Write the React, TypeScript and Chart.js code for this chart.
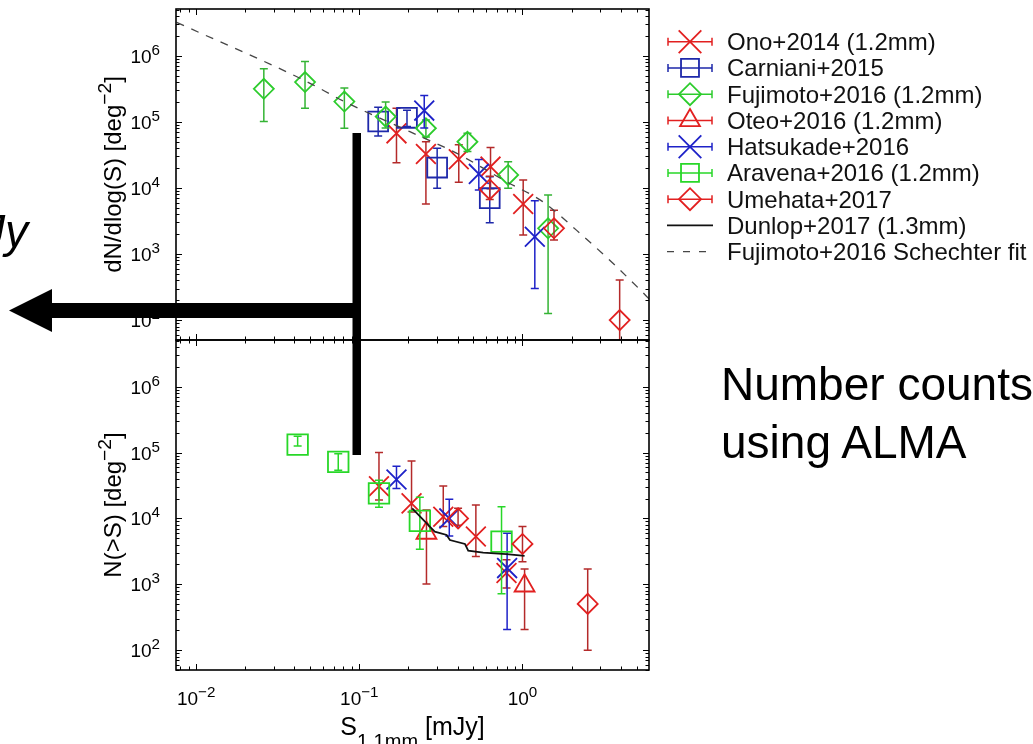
import React, { useEffect, useRef } from 'react';
import { Chart, registerables } from 'chart.js';
import { drawPoint } from 'chart.js/helpers';

Chart.register(...registerables);

const FONT_FAMILY = '"Liberation Sans", Arial, Helvetica, sans-serif';

// Axis ranges (shared by both panels)
const X_MIN = 0.00753;
const X_MAX = 5.96;
const Y_MIN = 50;
const Y_MAX = 5.1e6;
const X_LABEL_EXPONENTS = [-2, -1, 0];
const Y_LABEL_EXPONENTS = [2, 3, 4, 5, 6];

// ---- Differential counts dN/dlog(S) [deg^-2] ----
const onoDiffS = [0.169, 0.256, 0.407, 0.637, 1.01];
const onoDiffN = [6.7e4, 3.27e4, 2.72e4, 2.1e4, 5.7e3];
const onoDiffLo = [2.4e4, 5.7e3, 1.22e4, 9.7e3, 1.94e3];
const onoDiffHi = [1.6e5, 5.0e4, 4.5e4, 4.1e4, 1.32e4];

const carnDiffS = [0.1305, 0.196, 0.3, 0.63];
const carnDiffN = [1.01e5, 1.15e5, 2.03e4, 7.0e3];
const carnDiffLo = [6.1e4, 8.5e4, 9.9e3, 2.98e3];
const carnDiffHi = [1.67e5, 1.5e5, 4.0e4, 1.48e4];

const fujiDiffS = [0.026, 0.0465, 0.081, 0.145, 0.256, 0.46, 0.817, 1.435];
const fujiDiffN = [3.16e5, 4.0e5, 2.03e5, 1.2e5, 8.0e4, 5.0e4, 1.57e4, 2.45e3];
const fujiDiffLo = [1.01e5, 1.6e5, 8.0e4, 8.1e4, 5.9e4, 3.55e4, 9.9e3, 126];
const fujiDiffHi = [6.35e5, 8.2e5, 3.24e5, 2.0e5, 1.07e5, 6.7e4, 2.5e4, 7.8e3];

const hatsDiffS = [0.25, 0.54, 1.19];
const hatsDiffN = [1.48e5, 1.63e4, 1.83e3];
const hatsDiffLo = [8.1e4, 9.3e3, 302];
const hatsDiffHi = [2.5e5, 2.7e4, 6.4e3];

const umeDiffS = [0.63, 1.56, 3.94];
const umeDiffN = [9.5e3, 2.45e3, 100];
const umeDiffLo = [6.7e3, 1.63e3, 20];
const umeDiffHi = [1.5e4, 4.6e3, 404];

// Schechter fit curve
const schechterS = [0.0076, 0.0464, 0.081, 0.204, 0.394, 0.798, 1.33, 2.14, 3.57, 5.24, 5.96];
const schechterN = [3.2e6, 4.2e5, 2.03e5, 7.1e4, 3.36e4, 1.24e4, 6.2e3, 2.3e3, 7.3e2, 2.9e2, 2.1e2];

// ---- Cumulative counts N(>S) [deg^-2] ----
const aravCumS = [0.0419, 0.0743, 0.132, 0.235, 0.744];
const aravCumN = [1.32e5, 7.2e4, 2.4e4, 9.2e3, 4.45e3];
const aravCumLo = [1.25e5, 5.4e4, 1.47e4, 3.4e3, 720];
const aravCumHi = [1.76e5, 9.6e4, 3.8e4, 2.1e4, 1.5e4];

const onoCumS = [0.132, 0.209, 0.327, 0.518, 0.798];
const onoCumN = [3.08e4, 1.69e4, 1.06e4, 5.3e3, 1.48e3];
const onoCumLo = [1.9e4, 1.25e4, 7.5e3, 2.64e3, 880];
const onoCumHi = [1.0e5, 7.4e4, 3.1e4, 1.59e4, 2.36e3];

const hatsCumS = [0.169, 0.356, 0.805];
const hatsCumN = [3.9e4, 1.0e4, 1.76e3];
const hatsCumLo = [2.85e4, 5.4e3, 206];
const hatsCumHi = [6.2e4, 1.96e4, 5.96e3];

const oteoCumS = [0.258, 1.03];
const oteoCumN = [6.0e3, 950];
const oteoCumLo = [1.01e3, 206];
const oteoCumHi = [1.34e4, 1.7e3];

const umeCumS = [0.403, 1.0, 2.51];
const umeCumN = [1.0e4, 4.1e3, 504];
const umeCumLo = [7.9e3, 2.2e3, 100];
const umeCumHi = [1.42e4, 7.5e3, 1.7e3];

const dunlopS = [0.211, 0.2705, 0.29, 0.343, 0.359, 0.444, 0.465, 0.574, 0.798, 1.03];
const dunlopN = [1.42e4, 7.5e3, 6.3e3, 5.6e3, 4.7e3, 4.1e3, 3.25e3, 3.03e3, 2.87e3, 2.7e3];

// Colours
const RED = 'rgb(226,32,32)';
const RED_BAR = 'rgb(180,42,42)';
const BLUE = 'rgb(30,34,200)';
const BLUE_DARK = 'rgb(30,40,170)';
const GREEN = 'rgb(44,204,44)';
const GREEN_BAR = 'rgb(52,180,52)';
const GREEN_LIGHT = 'rgb(40,215,40)';

type PointSeries = {
  label: string;
  style: string;
  radius: number;
  color: string;
  barColor: string;
  s: number[];
  n: number[];
  lo: number[];
  hi: number[];
};

type CurveSeries = {
  label: string;
  color: string;
  width: number;
  dash: number[];
  smooth: boolean;
  s: number[];
  n: number[];
};

const diffSeries: PointSeries[] = [
  { label: 'Ono+2014 (1.2mm)', style: 'crossRot', radius: 14, color: RED, barColor: RED_BAR, s: onoDiffS, n: onoDiffN, lo: onoDiffLo, hi: onoDiffHi },
  { label: 'Carniani+2015', style: 'rect', radius: 14, color: BLUE_DARK, barColor: BLUE_DARK, s: carnDiffS, n: carnDiffN, lo: carnDiffLo, hi: carnDiffHi },
  { label: 'Fujimoto+2016 (1.2mm)', style: 'rectRot', radius: 10, color: GREEN, barColor: GREEN_BAR, s: fujiDiffS, n: fujiDiffN, lo: fujiDiffLo, hi: fujiDiffHi },
  { label: 'Hatsukade+2016', style: 'crossRot', radius: 14, color: BLUE, barColor: BLUE, s: hatsDiffS, n: hatsDiffN, lo: hatsDiffLo, hi: hatsDiffHi },
  { label: 'Umehata+2017', style: 'rectRot', radius: 10, color: RED, barColor: RED_BAR, s: umeDiffS, n: umeDiffN, lo: umeDiffLo, hi: umeDiffHi },
];

const diffCurves: CurveSeries[] = [
  { label: 'Fujimoto+2016 Schechter fit', color: 'rgb(70,70,70)', width: 1.3, dash: [8, 8], smooth: true, s: schechterS, n: schechterN },
];

const cumSeries: PointSeries[] = [
  { label: 'Ono+2014 (1.2mm)', style: 'crossRot', radius: 14, color: RED, barColor: RED_BAR, s: onoCumS, n: onoCumN, lo: onoCumLo, hi: onoCumHi },
  { label: 'Oteo+2016 (1.2mm)', style: 'triangle', radius: 11.5, color: RED, barColor: RED_BAR, s: oteoCumS, n: oteoCumN, lo: oteoCumLo, hi: oteoCumHi },
  { label: 'Hatsukade+2016', style: 'crossRot', radius: 14, color: BLUE, barColor: BLUE, s: hatsCumS, n: hatsCumN, lo: hatsCumLo, hi: hatsCumHi },
  { label: 'Aravena+2016 (1.2mm)', style: 'rect', radius: 14.5, color: GREEN_LIGHT, barColor: GREEN_LIGHT, s: aravCumS, n: aravCumN, lo: aravCumLo, hi: aravCumHi },
  { label: 'Umehata+2017', style: 'rectRot', radius: 10, color: RED, barColor: RED_BAR, s: umeCumS, n: umeCumN, lo: umeCumLo, hi: umeCumHi },
];

const cumCurves: CurveSeries[] = [
  { label: 'Dunlop+2017 (1.3mm)', color: '#111', width: 1.8, dash: [], smooth: false, s: dunlopS, n: dunlopN },
];

type LegendEntry = { label: string; kind: 'point' | 'solid' | 'dashed'; style?: string; radius?: number; color: string };

const legendEntries: LegendEntry[] = [
  { label: 'Ono+2014 (1.2mm)', kind: 'point', style: 'crossRot', radius: 16, color: RED },
  { label: 'Carniani+2015', kind: 'point', style: 'rect', radius: 12.7, color: BLUE_DARK },
  { label: 'Fujimoto+2016 (1.2mm)', kind: 'point', style: 'rectRot', radius: 11, color: GREEN },
  { label: 'Oteo+2016 (1.2mm)', kind: 'point', style: 'triangle', radius: 11.5, color: RED },
  { label: 'Hatsukade+2016', kind: 'point', style: 'crossRot', radius: 16, color: BLUE },
  { label: 'Aravena+2016 (1.2mm)', kind: 'point', style: 'rect', radius: 12.7, color: GREEN_LIGHT },
  { label: 'Umehata+2017', kind: 'point', style: 'rectRot', radius: 11, color: RED },
  { label: 'Dunlop+2017 (1.3mm)', kind: 'solid', color: '#111' },
  { label: 'Fujimoto+2016 Schechter fit', kind: 'dashed', color: 'rgb(70,70,70)' },
];

const PAGE_W = 1033;
const PLOT_LEFT = 176;
const PLOT_RIGHT = 649;

type Seg = { t: string; k?: 'sup' | 'sub' };

const SCRIPT_SCALE = 0.8;

function richWidth(ctx: CanvasRenderingContext2D, segs: Seg[], size: number) {
  let w = 0;
  for (const s of segs) {
    ctx.font = `${s.k ? size * SCRIPT_SCALE : size}px ${FONT_FAMILY}`;
    w += ctx.measureText(s.t).width;
  }
  return w;
}

function drawRich(
  ctx: CanvasRenderingContext2D,
  segs: Seg[],
  x: number,
  y: number,
  size: number,
  align: 'left' | 'center' | 'right',
  subDrop = 0.3
) {
  const w = richWidth(ctx, segs, size);
  let cx = align === 'left' ? x : align === 'center' ? x - w / 2 : x - w;
  ctx.textAlign = 'left';
  ctx.textBaseline = 'alphabetic';
  for (const s of segs) {
    const sz = s.k ? size * SCRIPT_SCALE : size;
    ctx.font = `${sz}px ${FONT_FAMILY}`;
    const dy = s.k === 'sup' ? -size * 0.42 : s.k === 'sub' ? size * subDrop : 0;
    ctx.fillText(s.t, cx, y + dy);
    cx += ctx.measureText(s.t).width;
  }
}

function powerLabel(e: number): Seg[] {
  return [{ t: '10' }, { t: e < 0 ? `\u2212${-e}` : `${e}`, k: 'sup' }];
}

const TICK_FONT = 19;
const TITLE_FONT = 24;
const MAJOR_TICK = 6;
const MINOR_TICK = 3.5;

type FrameOpts = { yTitle: Seg[]; xLabels: boolean; legend: boolean };

function framePlugin(opts: FrameOpts) {
  return {
    id: 'gnuFrame',
    afterDraw(chart: any) {
      const { ctx, chartArea: a, scales } = chart;
      const xs = scales.x;
      const ys = scales.y;
      ctx.save();
      ctx.strokeStyle = '#000';
      ctx.fillStyle = '#000';
      ctx.lineWidth = 1;
      ctx.beginPath();
      // x ticks, on both horizontal edges, pointing inward
      for (let k = -3; k <= 0; k++) {
        for (let m = 1; m <= 9; m++) {
          const v = m * Math.pow(10, k);
          if (v < X_MIN || v > X_MAX) continue;
          const px = Math.round(xs.getPixelForValue(v)) + 0.5;
          const len = m === 1 ? MAJOR_TICK : MINOR_TICK;
          ctx.moveTo(px, a.bottom);
          ctx.lineTo(px, a.bottom - len);
          ctx.moveTo(px, a.top);
          ctx.lineTo(px, a.top + len);
        }
      }
      // y ticks, on both vertical edges
      for (let k = 1; k <= 6; k++) {
        for (let m = 1; m <= 9; m++) {
          const v = m * Math.pow(10, k);
          if (v < Y_MIN || v > Y_MAX) continue;
          const py = Math.round(ys.getPixelForValue(v)) + 0.5;
          const len = m === 1 ? MAJOR_TICK : MINOR_TICK;
          ctx.moveTo(a.left, py);
          ctx.lineTo(a.left + len, py);
          ctx.moveTo(a.right, py);
          ctx.lineTo(a.right - len, py);
        }
      }
      ctx.stroke();
      ctx.lineWidth = 1.6;
      ctx.strokeRect(a.left, a.top, a.right - a.left, a.bottom - a.top);

      // y tick labels
      for (const e of Y_LABEL_EXPONENTS) {
        const py = ys.getPixelForValue(Math.pow(10, e));
        drawRich(ctx, powerLabel(e), a.left - 16, py + 7, TICK_FONT, 'right');
      }

      // y title (rotated)
      ctx.save();
      ctx.translate(121, (a.top + a.bottom) / 2);
      ctx.rotate(-Math.PI / 2);
      drawRich(ctx, opts.yTitle, 0, 0, TITLE_FONT, 'center');
      ctx.restore();

      if (opts.xLabels) {
        for (const e of X_LABEL_EXPONENTS) {
          const px = xs.getPixelForValue(Math.pow(10, e));
          drawRich(ctx, powerLabel(e), px, a.bottom + 35, TICK_FONT, 'center');
        }
        drawRich(
          ctx,
          [{ t: 'S' }, { t: '1.1mm', k: 'sub' }, { t: ' [mJy]' }],
          (a.left + a.right) / 2,
          a.bottom + 65,
          25,
          'center',
          0.5
        );
      }

      if (opts.legend) {
        const x0 = 668;
        const x1 = 712;
        const xm = 690;
        legendEntries.forEach((en, i) => {
          const cy = 41.7 + i * 26.25;
          ctx.save();
          ctx.strokeStyle = en.color;
          if (en.kind === 'point') {
            ctx.lineWidth = 1.5;
            ctx.beginPath();
            ctx.moveTo(x0, cy);
            ctx.lineTo(x1, cy);
            ctx.moveTo(x0, cy - 4);
            ctx.lineTo(x0, cy + 4);
            ctx.moveTo(x1, cy - 4);
            ctx.lineTo(x1, cy + 4);
            ctx.stroke();
            ctx.fillStyle = 'rgba(0,0,0,0)';
            ctx.lineWidth = 1.8;
            drawPoint(ctx, { pointStyle: en.style as any, radius: en.radius as number, rotation: 0, borderWidth: 1.8 } as any, xm, cy);
          } else {
            ctx.lineWidth = en.kind === 'solid' ? 1.8 : 1.3;
            ctx.setLineDash(en.kind === 'dashed' ? [7, 9] : []);
            ctx.beginPath();
            ctx.moveTo(x0 - 1, cy);
            ctx.lineTo(x1 + 1, cy);
            ctx.stroke();
          }
          ctx.restore();
          ctx.fillStyle = '#111';
          ctx.font = `24px ${FONT_FAMILY}`;
          ctx.textAlign = 'left';
          ctx.textBaseline = 'alphabetic';
          ctx.fillText(en.label, 727, cy + 8.5);
        });
      }
      ctx.restore();
    },
  };
}

function errorBarPlugin(byIndex: (PointSeries | null)[]) {
  return {
    id: 'errorBars',
    beforeDatasetDraw(chart: any, args: any) {
      const p = byIndex[args.index];
      if (!p) return;
      const { ctx, chartArea: a } = chart;
      const xs = chart.scales.x;
      const ys = chart.scales.y;
      const cap = 4;
      ctx.save();
      ctx.beginPath();
      ctx.rect(a.left, a.top, a.right - a.left, a.bottom - a.top);
      ctx.clip();
      ctx.strokeStyle = p.barColor;
      ctx.lineWidth = 1.5;
      ctx.beginPath();
      p.s.forEach((s, i) => {
        const x = xs.getPixelForValue(s);
        const y1 = ys.getPixelForValue(p.lo[i]);
        const y2 = ys.getPixelForValue(p.hi[i]);
        ctx.moveTo(x, y1);
        ctx.lineTo(x, y2);
        ctx.moveTo(x - cap, y1);
        ctx.lineTo(x + cap, y1);
        ctx.moveTo(x - cap, y2);
        ctx.lineTo(x + cap, y2);
      });
      ctx.stroke();
      ctx.restore();
    },
  };
}

function buildChart(
  canvas: HTMLCanvasElement,
  points: PointSeries[],
  curves: CurveSeries[],
  padding: { left: number; top: number; right: number; bottom: number },
  frame: FrameOpts
) {
  const datasets: any[] = [];
  const byIndex: (PointSeries | null)[] = [];
  points.forEach((p, i) => {
    datasets.push({
      type: 'scatter',
      label: p.label,
      data: p.s.map((x, j) => ({ x, y: p.n[j] })),
      pointStyle: p.style,
      pointRadius: p.radius,
      pointHoverRadius: p.radius,
      pointBorderColor: p.color,
      pointBackgroundColor: 'rgba(0,0,0,0)',
      pointBorderWidth: 1.8,
      showLine: false,
      order: points.length - i + 1,
    });
    byIndex.push(p);
  });
  curves.forEach((c) => {
    datasets.push({
      type: 'line',
      label: c.label,
      data: c.s.map((x, j) => ({ x, y: c.n[j] })),
      borderColor: c.color,
      borderWidth: c.width,
      borderDash: c.dash,
      pointRadius: 0,
      fill: false,
      tension: 0,
      cubicInterpolationMode: c.smooth ? 'monotone' : 'default',
      clip: 0,
      order: 0,
    });
    byIndex.push(null);
  });

  return new Chart(canvas, {
    type: 'scatter',
    data: { datasets },
    options: {
      animation: false,
      responsive: false,
      maintainAspectRatio: false,
      events: [],
      layout: { padding, autoPadding: false },
      plugins: { legend: { display: false }, tooltip: { enabled: false } },
      scales: {
        x: {
          type: 'logarithmic',
          min: X_MIN,
          max: X_MAX,
          ticks: { display: false },
          grid: { display: false },
          border: { display: false },
          afterFit: (s: any) => {
            s.height = 0;
          },
        },
        y: {
          type: 'logarithmic',
          min: Y_MIN,
          max: Y_MAX,
          ticks: { display: false },
          grid: { display: false },
          border: { display: false },
          afterFit: (s: any) => {
            s.width = PLOT_LEFT;
          },
        },
      },
    } as any,
    plugins: [errorBarPlugin(byIndex), framePlugin(frame)],
  });
}

export default function App() {
  const topRef = useRef<HTMLCanvasElement>(null);
  const bottomRef = useRef<HTMLCanvasElement>(null);

  useEffect(() => {
    const top = buildChart(
      topRef.current as HTMLCanvasElement,
      diffSeries,
      diffCurves,
      { left: 0, top: 9, right: PAGE_W - PLOT_RIGHT, bottom: 5 },
      {
        yTitle: [{ t: 'dN/dlog(S) [deg' }, { t: '\u22122', k: 'sup' }, { t: ']' }],
        xLabels: false,
        legend: true,
      }
    );
    const bottom = buildChart(
      bottomRef.current as HTMLCanvasElement,
      cumSeries,
      cumCurves,
      { left: 0, top: 10, right: PAGE_W - PLOT_RIGHT, bottom: 74 },
      {
        yTitle: [{ t: 'N(>S) [deg' }, { t: '\u22122', k: 'sup' }, { t: ']' }],
        xLabels: true,
        legend: false,
      }
    );
    return () => {
      top.destroy();
      bottom.destroy();
    };
  }, []);

  return (
    <div
      style={{
        position: 'absolute',
        left: 0,
        top: 0,
        width: PAGE_W,
        height: 744,
        overflow: 'hidden',
        background: '#fff',
      }}
    >
      <canvas ref={topRef} width={PAGE_W} height={345} style={{ position: 'absolute', left: 0, top: 0, width: PAGE_W, height: 345 }} />
      <canvas ref={bottomRef} width={PAGE_W} height={414} style={{ position: 'absolute', left: 0, top: 330, width: PAGE_W, height: 414 }} />
      <svg width={PAGE_W} height={744} style={{ position: 'absolute', left: 0, top: 0, pointerEvents: 'none' }}>
        <polygon points="9,310.5 52,289 52,332" fill="#000" />
        <rect x={50} y={303} width={311} height={15} fill="#000" />
        <rect x={352.5} y={133} width={8.5} height={322} fill="#000" />
        <text x={28} y={247} fontSize={46} fontStyle="italic" textAnchor="end" fontFamily={FONT_FAMILY} fill="#000">
          mJy
        </text>
        <text x={721} y={400} fontSize={46} fontFamily={FONT_FAMILY} fill="#000">
          Number counts
        </text>
        <text x={721} y={458} fontSize={46} fontFamily={FONT_FAMILY} fill="#000">
          using ALMA
        </text>
      </svg>
    </div>
  );
}
